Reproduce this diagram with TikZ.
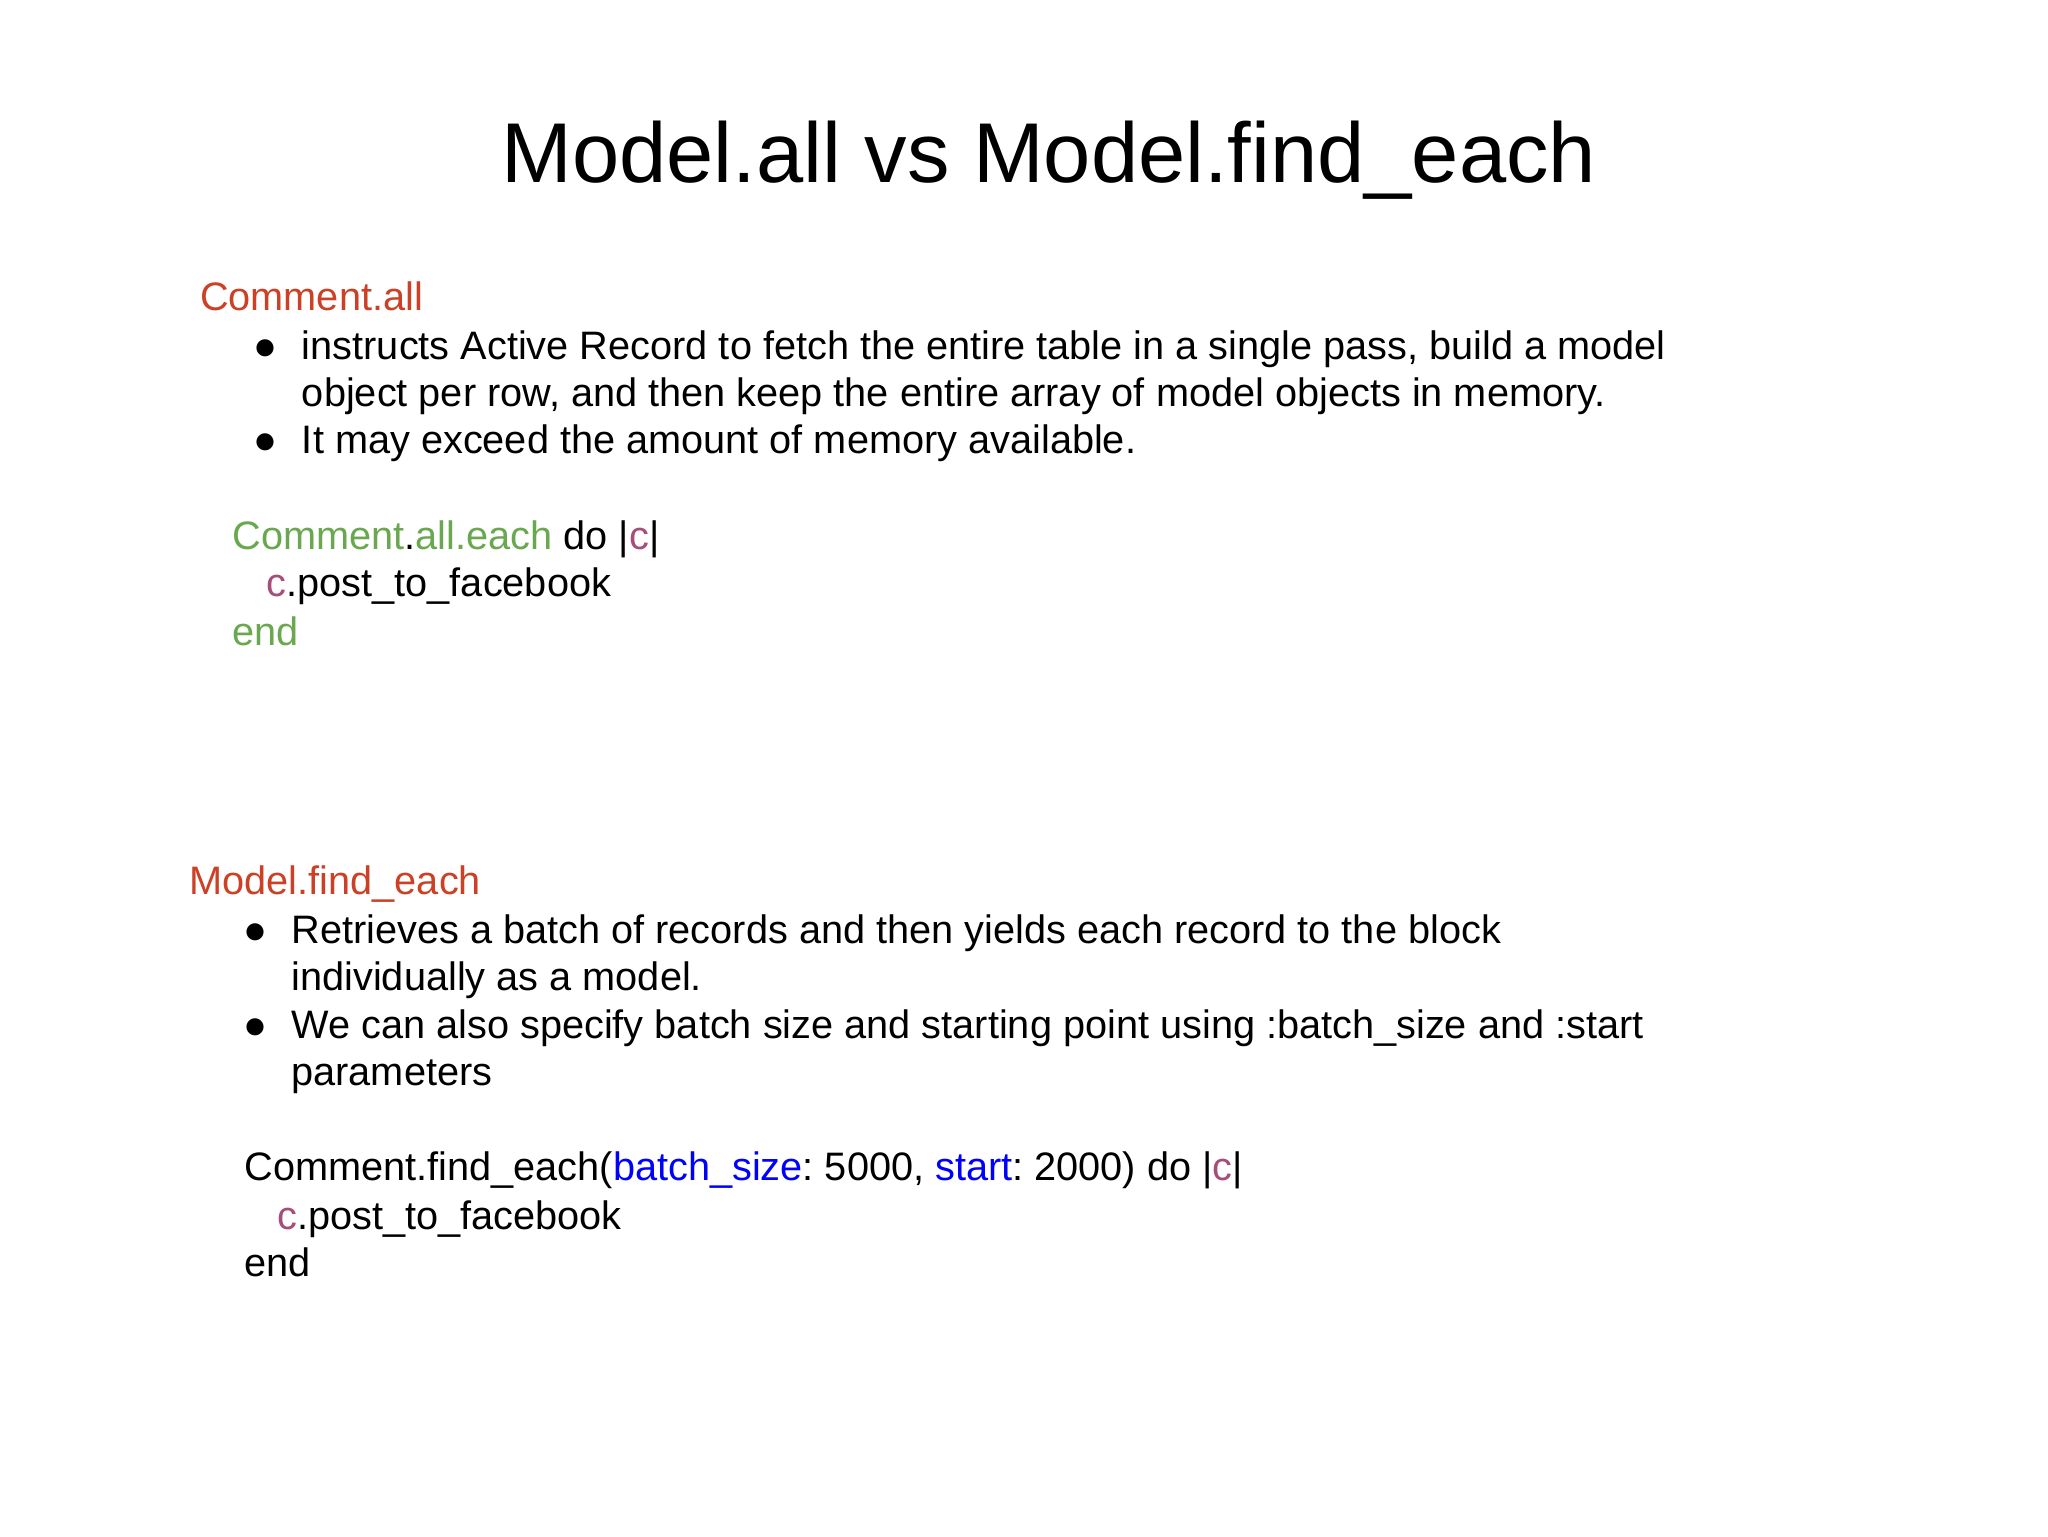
\documentclass[tikz,border=0pt]{standalone}
\usepackage{fontspec}
\setmainfont{Liberation Sans}
\frenchspacing
\definecolor{hred}{RGB}{204,65,37}
\definecolor{cgreen}{RGB}{106,168,79}
\definecolor{cpurp}{RGB}{166,77,121}
\definecolor{cblue}{RGB}{0,0,255}
\begin{document}
\begin{tikzpicture}[x=1pt,y=-1pt,
  txt/.style={anchor=base west,inner sep=0pt,font=\fontsize{30.4}{34}\selectfont},
  ttl/.style={anchor=base,inner sep=0pt,font=\fontsize{65}{72}\selectfont}]
\useasboundingbox (0,0) rectangle (1568,1176);
\node[ttl] (title) at (803,140) {Model.all vs Model.find\_each};
\node[txt,text=hred] (h1) at (153,238) {Comment.all};
\node[txt] (b1) at (194,275) {●};
\node[txt] (t1) at (231,275) {instructs Active Record to fetch the entire table in a single pass, build a model};
\node[txt] (t1b) at (231,311) {object per row, and then keep the entire array of model objects in memory.};
\node[txt] (b2) at (194,347) {●};
\node[txt] (t2) at (231,347) {It may exceed the amount of memory available.};
\node[txt] (c1) at (178,421) {\textcolor{cgreen}{Comment}.\textcolor{cgreen}{all.each} do |\textcolor{cpurp}{c}|};
\node[txt] (c2) at (204,457) {\textcolor{cpurp}{c}.post\_to\_facebook};
\node[txt,text=cgreen] (c3) at (178,494) {end};
\node[txt,text=hred] (h2) at (145,685) {Model.find\_each};
\node[txt] (b3) at (186,722) {●};
\node[txt] (t3) at (223,722) {Retrieves a batch of records and then yields each record to the block};
\node[txt] (t3b) at (223,758) {individually as a model.};
\node[txt] (b4) at (186,795) {●};
\node[txt] (t4) at (223,795) {We can also specify batch size and starting point using :batch\_size and :start};
\node[txt] (t4b) at (223,831) {parameters};
\node[txt] (d1) at (187,904) {Comment.find\_each(\textcolor{cblue}{batch\_size}: 5000, \textcolor{cblue}{start}: 2000) do |\textcolor{cpurp}{c}|};
\node[txt] (d2) at (212,941) {\textcolor{cpurp}{c}.post\_to\_facebook};
\node[txt] (d3) at (187,977) {end};
\end{tikzpicture}
\end{document}
